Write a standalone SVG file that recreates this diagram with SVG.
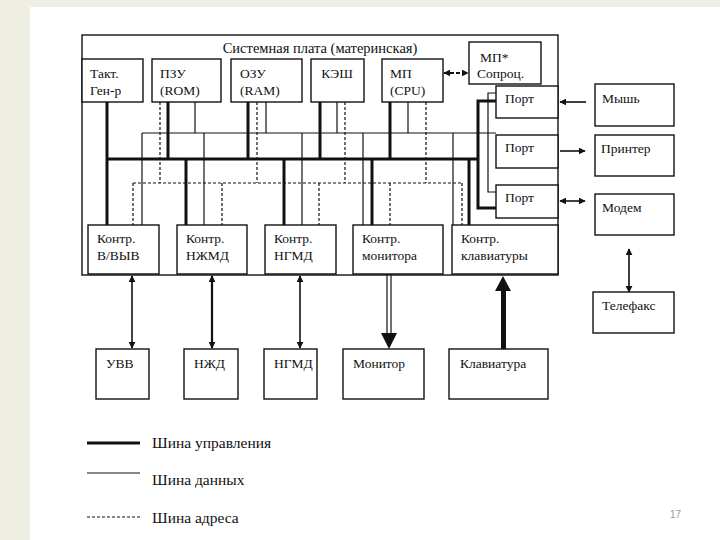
<svg xmlns="http://www.w3.org/2000/svg" width="720" height="540" viewBox="0 0 720 540">
<defs>
<style>
text{font-family:"Liberation Serif","DejaVu Serif",serif;font-size:13.5px;fill:#111}
.box{fill:#fff;stroke:#111;stroke-width:1.4}
.thick{stroke:#111;stroke-width:3;fill:none}
.thin{stroke:#111;stroke-width:1.2;fill:none}
.dash{stroke:#111;stroke-width:1.2;fill:none;stroke-dasharray:3 2}
.arr{stroke:#111;stroke-width:1.6;fill:none}
.leg{font-size:15.5px}
</style>
<marker id="ah" viewBox="0 0 10 10" refX="9" refY="5" markerWidth="7" markerHeight="7" orient="auto-start-reverse" markerUnits="userSpaceOnUse">
<path d="M0,0 L10,5 L0,10 z" fill="#111"/>
</marker>
</defs>
<rect x="0" y="0" width="720" height="540" fill="#eeeee2"/>
<rect x="30" y="7" width="690" height="533" fill="#fff"/>
<text x="670" y="518" style="font-family:'Liberation Sans',Arial,sans-serif;font-size:10px;fill:#999">17</text>

<g id="board">
<rect x="82" y="35" width="476" height="240" fill="none" stroke="#111" stroke-width="1.4"/>
<text x="320" y="53" text-anchor="middle" style="font-size:14.5px">Системная плата (материнская)</text>
</g>

<g id="connectors">
<line class="thick" x1="107" y1="159" x2="478" y2="159"/>
<line class="thick" x1="107" y1="102" x2="107" y2="225"/>
<line class="thick" x1="168" y1="102" x2="168" y2="159"/>
<line class="thick" x1="248" y1="102" x2="248" y2="159"/>
<line class="thick" x1="320" y1="102" x2="320" y2="159"/>
<line class="thick" x1="390" y1="102" x2="390" y2="159"/>
<line class="thick" x1="186" y1="159" x2="186" y2="225"/>
<line class="thick" x1="284" y1="159" x2="284" y2="225"/>
<line class="thick" x1="372" y1="159" x2="372" y2="225"/>
<line class="thick" x1="469" y1="159" x2="469" y2="225"/>
<polyline class="thick" points="496,101 478,101 478,208 496,208"/>
<line class="thin" x1="142" y1="133" x2="496" y2="133"/>
<line class="thin" x1="142" y1="133" x2="142" y2="225"/>
<line class="thin" x1="195" y1="102" x2="195" y2="133"/>
<line class="thin" x1="266" y1="102" x2="266" y2="133"/>
<line class="thin" x1="337" y1="102" x2="337" y2="133"/>
<line class="thin" x1="408" y1="102" x2="408" y2="133"/>
<line class="thin" x1="204" y1="133" x2="204" y2="225"/>
<line class="thin" x1="302" y1="133" x2="302" y2="225"/>
<line class="thin" x1="363" y1="133" x2="363" y2="225"/>
<line class="thin" x1="453" y1="133" x2="453" y2="225"/>
<polyline class="thin" points="496,93 488,93 488,192 496,192"/>
<line class="dash" x1="133" y1="183" x2="462" y2="183"/>
<line class="dash" x1="133" y1="183" x2="133" y2="225"/>
<line class="dash" x1="160" y1="102" x2="160" y2="183"/>
<line class="dash" x1="257" y1="102" x2="257" y2="183"/>
<line class="dash" x1="345" y1="102" x2="345" y2="183"/>
<line class="dash" x1="426" y1="102" x2="426" y2="183"/>
<line class="dash" x1="222" y1="183" x2="222" y2="225"/>
<line class="dash" x1="319" y1="183" x2="319" y2="225"/>
<line class="dash" x1="390" y1="183" x2="390" y2="225"/>
<line class="dash" x1="462" y1="183" x2="462" y2="225"/>
<line x1="444" y1="73" x2="468" y2="73" stroke="#111" stroke-width="2" stroke-dasharray="4 2" marker-start="url(#ah)" marker-end="url(#ah)"/>
<line class="arr" x1="586" y1="102" x2="560" y2="102" marker-end="url(#ah)"/>
<line class="arr" x1="560" y1="151" x2="585" y2="151" marker-end="url(#ah)"/>
<line class="arr" x1="560" y1="201" x2="585" y2="201" marker-start="url(#ah)" marker-end="url(#ah)"/>
<line class="arr" x1="629" y1="249" x2="629" y2="292" marker-start="url(#ah)" marker-end="url(#ah)"/>
<line class="arr" x1="132" y1="276" x2="132" y2="348" marker-start="url(#ah)" marker-end="url(#ah)"/>
<line x1="212" y1="276" x2="212" y2="348" stroke="#111" stroke-width="2.2" marker-start="url(#ah)" marker-end="url(#ah)"/>
<line class="arr" x1="300" y1="276" x2="300" y2="348" marker-start="url(#ah)" marker-end="url(#ah)"/>
<rect x="387" y="275" width="4" height="59" fill="#fff" stroke="#111" stroke-width="1.2"/>
<path d="M381,333 L397,333 L389,349 z" fill="#111"/>
<rect x="501" y="290" width="5" height="59" fill="#111"/>
<path d="M495,291 L511,291 L503,276 z" fill="#111"/>
</g>

<g id="takt"><rect class="box" x="82" y="59" width="61" height="43"/><text x="90" y="78">Такт.</text><text x="90" y="95">Ген-р</text></g>
<g id="rom"><rect class="box" x="152" y="59" width="69" height="43"/><text x="160" y="78">ПЗУ</text><text x="160" y="95">(ROM)</text></g>
<g id="ram"><rect class="box" x="231" y="59" width="71" height="43"/><text x="240" y="78">ОЗУ</text><text x="240" y="95">(RAM)</text></g>
<g id="cache"><rect class="box" x="311" y="59" width="53" height="43"/><text x="337" y="78" text-anchor="middle">КЭШ</text></g>
<g id="cpu"><rect class="box" x="382" y="59" width="61" height="43"/><text x="390" y="78">МП</text><text x="390" y="95">(CPU)</text></g>
<g id="copro"><rect class="box" x="469" y="42" width="72" height="42"/><text x="480" y="62">МП*</text><text x="477" y="78">Сопроц.</text></g>

<g id="port1"><rect class="box" x="496" y="86" width="62" height="32"/><text x="505" y="103">Порт</text></g>
<g id="port2"><rect class="box" x="496" y="135" width="62" height="33"/><text x="505" y="152">Порт</text></g>
<g id="port3"><rect class="box" x="496" y="185" width="62" height="33"/><text x="505" y="202">Порт</text></g>

<g id="mouse"><rect class="box" x="595" y="84" width="79" height="42"/><text x="602" y="103">Мышь</text></g>
<g id="printer"><rect class="box" x="595" y="135" width="79" height="41"/><text x="601" y="153">Принтер</text></g>
<g id="modem"><rect class="box" x="595" y="194" width="79" height="41"/><text x="602" y="212">Модем</text></g>
<g id="fax"><rect class="box" x="593" y="292" width="81" height="41"/><text x="602" y="310">Телефакс</text></g>

<g id="c-io"><rect class="box" x="88" y="225" width="71" height="49"/><text x="97" y="243">Контр.</text><text x="97" y="260">В/ВЫВ</text></g>
<g id="c-hdd"><rect class="box" x="177" y="225" width="70" height="49"/><text x="186" y="243">Контр.</text><text x="186" y="260">НЖМД</text></g>
<g id="c-fdd"><rect class="box" x="265" y="225" width="71" height="49"/><text x="274" y="243">Контр.</text><text x="274" y="260">НГМД</text></g>
<g id="c-mon"><rect class="box" x="353" y="225" width="90" height="49"/><text x="362" y="243">Контр.</text><text x="362" y="260">монитора</text></g>
<g id="c-kbd"><rect class="box" x="452" y="225" width="106" height="49"/><text x="461" y="243">Контр.</text><text x="461" y="260">клавиатуры</text></g>

<g id="uvv"><rect class="box" x="96" y="349" width="53" height="50"/><text x="106" y="368">УВВ</text></g>
<g id="nzhd"><rect class="box" x="184" y="349" width="54" height="50"/><text x="194" y="368">НЖД</text></g>
<g id="ngmd"><rect class="box" x="264" y="349" width="53" height="50"/><text x="274" y="368">НГМД</text></g>
<g id="monitor"><rect class="box" x="343" y="349" width="81" height="50"/><text x="353" y="368">Монитор</text></g>
<g id="keyboard"><rect class="box" x="449" y="349" width="99" height="50"/><text x="460" y="368">Клавиатура</text></g>

<g id="legend">
<line class="thick" x1="87" y1="443" x2="140" y2="443"/>
<text class="leg" x="152" y="448">Шина управления</text>
<line class="thin" x1="87" y1="473" x2="140" y2="473"/>
<text class="leg" x="152" y="485">Шина данных</text>
<line class="dash" x1="87" y1="517" x2="140" y2="517"/>
<text class="leg" x="152" y="523">Шина адреса</text>
</g>
</svg>
